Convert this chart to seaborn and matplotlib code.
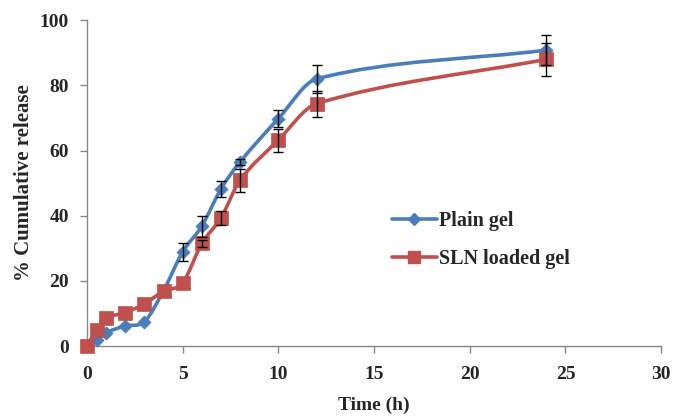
import numpy as np
import pandas as pd
import seaborn as sns
import matplotlib
matplotlib.use("Agg")
import matplotlib.pyplot as plt
from matplotlib.path import Path
from matplotlib.patches import PathPatch
from matplotlib.lines import Line2D

# ---- data ----
time_h = [0, 0.5, 1, 2, 3, 4, 5, 6, 7, 8, 10, 12, 24]
plain_gel = [0, 2.0, 4.1, 6.2, 7.5, 17, 28.9, 36.8, 48.2, 56.5, 69.8, 82, 90.8]
plain_err = [np.nan, np.nan, np.nan, np.nan, np.nan, np.nan, 2.8, 3.2, 2.5, 1.0, 2.5, 4.2, 4.5]
sln_gel = [0, 4.9, 8.5, 10.3, 12.9, 16.9, 19.4, 31.5, 39.3, 50.9, 63.2, 74.4, 88.0]
sln_err = [np.nan, np.nan, np.nan, np.nan, np.nan, np.nan, np.nan, 1.0, 2.0, 3.5, 3.5, 4.0, 5.0]
series_names = ["Plain gel", "SLN loaded gel"]
x_ticks = [0, 5, 10, 15, 20, 25, 30]
y_ticks = [0, 20, 40, 60, 80, 100]

BLUE = "#4A7EBB"
RED = "#C0504D"

sns.set_theme(style="white")
plt.rcParams["font.family"] = ["Liberation Serif", "DejaVu Serif"]
plt.rcParams["font.weight"] = "bold"

fig = plt.figure(figsize=(6.74, 4.2), dpi=100)
ax = fig.add_axes([0.129, 0.176, 0.852, 0.776])


def smooth_path(xs, ys):
    xs = np.asarray(xs, float)
    ys = np.asarray(ys, float)
    n = len(xs)
    m = np.zeros(n)
    for i in range(n):
        a = max(i - 1, 0)
        b = min(i + 1, n - 1)
        m[i] = (ys[b] - ys[a]) / (xs[b] - xs[a])
    verts = [(xs[0], ys[0])]
    codes = [Path.MOVETO]
    for i in range(n - 1):
        h = xs[i + 1] - xs[i]
        c1 = (xs[i] + h / 3, ys[i] + m[i] * h / 3)
        c2 = (xs[i + 1] - h / 3, ys[i + 1] - m[i + 1] * h / 3)
        verts += [c1, c2, (xs[i + 1], ys[i + 1])]
        codes += [Path.CURVE4] * 3
    return Path(verts, codes)


df = pd.DataFrame({
    "time": time_h * 2,
    "release": plain_gel + sln_gel,
    "series": [series_names[0]] * len(time_h) + [series_names[1]] * len(time_h),
})

ax.add_patch(PathPatch(smooth_path(time_h, plain_gel), facecolor="none",
                       edgecolor=BLUE, lw=2.6, zorder=2, capstyle="round"))
ax.add_patch(PathPatch(smooth_path(time_h, sln_gel), facecolor="none",
                       edgecolor=RED, lw=2.6, zorder=2, capstyle="round"))

for ys, errs in [(plain_gel, plain_err), (sln_gel, sln_err)]:
    ax.errorbar(time_h, ys, yerr=errs, fmt="none", ecolor="black",
                elinewidth=1.0, capsize=3.5, capthick=1.0, zorder=6)

sns.scatterplot(data=df[df.series == series_names[0]], x="time", y="release",
                marker="D", s=45, color=BLUE, edgecolor=BLUE, linewidth=0.5,
                ax=ax, zorder=3, legend=False, clip_on=False)
sns.scatterplot(data=df[df.series == series_names[1]], x="time", y="release",
                marker="s", s=110, color=RED, edgecolor=RED, linewidth=0.5,
                ax=ax, zorder=4, legend=False, clip_on=False)

ax.set_xlim(0, 30)
ax.set_ylim(0, 100)
ax.set_xticks(x_ticks)
ax.set_yticks(y_ticks)
ax.set_xticklabels([str(v) for v in x_ticks], fontsize=14, fontweight="bold")
ax.set_yticklabels([str(v) for v in y_ticks], fontsize=14, fontweight="bold")
ax.set_xlabel("Time (h)", fontsize=14, fontweight="bold")
ax.set_ylabel("% Cumulative release", fontsize=15, fontweight="bold")
ax.xaxis.set_label_coords(0.5, -0.155)
ax.yaxis.set_label_coords(-0.092, 0.5)

for s in ["top", "right"]:
    ax.spines[s].set_visible(False)
for s in ["left", "bottom"]:
    ax.spines[s].set_color("#888888")
    ax.spines[s].set_linewidth(1.0)
ax.tick_params(axis="both", direction="out", length=5, width=1, color="#888888",
               left=True, bottom=True)
ax.tick_params(axis="x", pad=9)
ax.tick_params(axis="y", pad=8)
ax.grid(False)

handles = [
    Line2D([], [], color=BLUE, lw=2.6, marker="D", markersize=6),
    Line2D([], [], color=RED, lw=2.6, marker="s", markersize=9),
]
ax.legend(handles, series_names, loc="upper left", bbox_to_anchor=(0.5, 0.47),
          frameon=False, prop={"family": "Liberation Serif", "weight": "bold", "size": 14.5},
          handlelength=2.2, handletextpad=0.1, labelspacing=0.9)

fig.savefig("out.png", dpi=100, facecolor="white")
